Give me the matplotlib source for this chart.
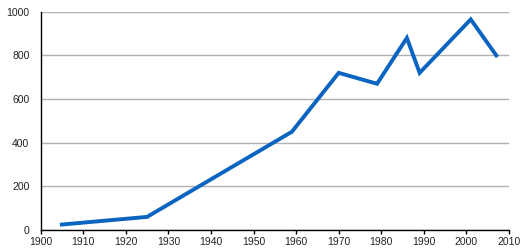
import matplotlib
matplotlib.use("Agg")
import matplotlib.pyplot as plt

years = [1905, 1925, 1959, 1970, 1979, 1986, 1989, 2001, 2007]
values = [25, 60, 450, 720, 670, 880, 720, 965, 800]
x_ticks = list(range(1900, 2011, 10))
y_ticks = [0, 200, 400, 600, 800, 1000]

plt.rcParams['font.family'] = ['Liberation Sans', 'DejaVu Sans']

fig = plt.figure(figsize=(5.2, 2.5), dpi=100)
ax = fig.add_axes([0.078, 0.08, 0.901, 0.873])
ax.plot(years, values, color='#0a64c0', linewidth=2.8, solid_joinstyle='miter', zorder=3)
ax.set_xlim(1900, 2010)
ax.set_ylim(0, 1000)
ax.set_xticks(x_ticks)
ax.set_yticks(y_ticks)
ax.set_xticklabels([str(t) for t in x_ticks])
ax.set_yticklabels([str(t) for t in y_ticks])
ax.yaxis.grid(True, color='#b0b0b0', linewidth=1.0)
ax.set_axisbelow(True)
for s in ['top', 'right']:
    ax.spines[s].set_visible(False)
ax.spines['left'].set_color('black')
ax.spines['bottom'].set_color('black')
ax.spines['left'].set_linewidth(1.0)
ax.spines['bottom'].set_linewidth(1.0)
ax.tick_params(axis='y', length=0, pad=8, labelsize=7.5, labelcolor='#222222')
ax.tick_params(axis='x', length=3, width=1, pad=2, labelsize=7.5, labelcolor='#222222', direction='out')
fig.savefig('out.png', dpi=100, facecolor='white')
